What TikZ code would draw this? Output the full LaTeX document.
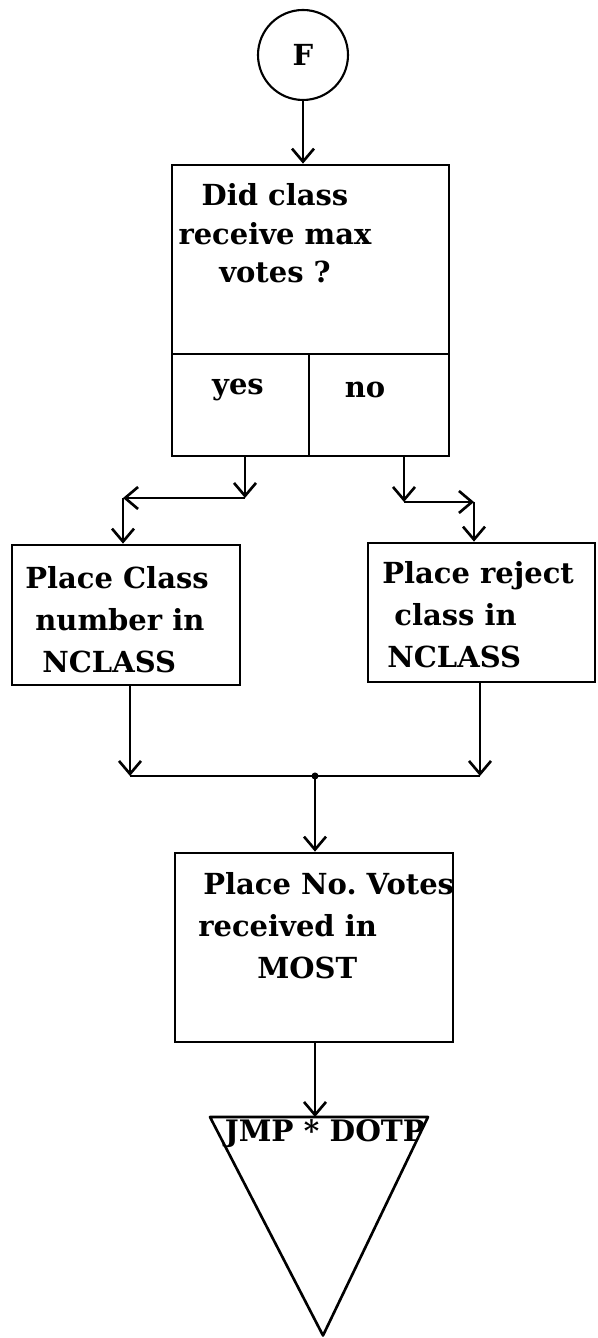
\documentclass[tikz,border=0pt]{standalone}
\usepackage{fontspec}
\setmainfont{DejaVu Serif}
\usetikzlibrary{arrows.meta, positioning}

\begin{document}
\begin{tikzpicture}[font=\bfseries\fontsize{16.5}{24}\selectfont,
  box/.style={draw, line width=1.5pt, inner sep=0pt},
  txt/.style={inner sep=0pt},
  arr/.style={-{Straight Barb[length=2.6mm,width=4.4mm]}, line width=1.5pt}]
  \useasboundingbox (0,0) rectangle (11.94,26.76);

  \node[box, circle, line width=1.2pt, minimum size=1.8cm] (fnode) at (6.06,25.66) {F};

  \node[box, minimum width=5.54cm, minimum height=3.78cm] (ask) at (6.21,21.57) {};
  \node[txt, align=center, font=\bfseries\fontsize{16.5}{22}\selectfont] (asktext) at (5.5,22.09) {Did class\\receive max\\votes ?};
  \node[box, minimum width=2.74cm, minimum height=2.04cm] (yes) at (4.81,18.66) {};
  \node[box, minimum width=2.80cm, minimum height=2.04cm] (no) at (7.58,18.66) {};
  \node[txt] (yestext) at (4.76,18.96) {yes};
  \node[txt] (notext) at (7.3,18.96) {no};

  \node[box, minimum width=4.56cm, minimum height=2.80cm] (place) at (2.52,14.46) {};
  \node[txt, align=left, anchor=west] (placetext) at (0.5,14.36) {Place Class\\\hspace*{0.2cm}number in\\\hspace*{0.34cm}NCLASS};

  \node[box, minimum width=4.54cm, minimum height=2.78cm] (reject) at (9.63,14.51) {};
  \node[txt, align=left, anchor=west] (rejecttext) at (7.64,14.46) {Place reject\\\hspace*{0.24cm}class in\\\hspace*{0.1cm}NCLASS};

  \node[box, minimum width=5.56cm, minimum height=3.78cm] (most) at (6.28,7.81) {};
  \node[txt, align=left, anchor=west] (mosttext) at (3.96,8.24) {\hspace*{0.1cm}Place No.\ Votes\\received in\\\hspace*{1.18cm}MOST};

  \coordinate (jmp) at (6.3,4.42);
  \draw[line width=1.5pt, line join=round] (4.2,4.42) -- (8.56,4.42) -- (6.46,0.05) -- cycle;
  \node[txt, font=\bfseries\fontsize{16.8}{24}\selectfont] (jmptext) at (6.5,4.08) {JMP * DOTP};

  \coordinate (yturn) at (4.9,16.8);
  \coordinate (yleft) at (2.46,16.8);
  \coordinate (nturn) at (8.08,16.72);
  \coordinate (nright) at (9.48,16.72);
  \coordinate (mleft) at (2.6,11.24);
  \coordinate (mright) at (9.6,11.24);
  \coordinate (mjoin) at (6.3,11.24);

  \draw[arr] (fnode.south) -- (fnode.south |- ask.north);
  \draw[arr] (yes.south -| yturn) -- (yturn);
  \draw[arr] (yturn) -- (yleft);
  \draw[arr] (yleft) -- (yleft |- place.north);
  \draw[arr] (no.south -| nturn) -- (nturn);
  \draw[arr] (nturn) -- (nright);
  \draw[arr] (nright) -- (nright |- reject.north);
  \draw[arr] (place.south -| mleft) -- (mleft);
  \draw[arr] (reject.south -| mright) -- (mright);
  \draw[line width=1.5pt] (mleft) -- (mright);
  \fill (mjoin) circle (2pt);
  \draw[arr] (mjoin) -- (mjoin |- most.north);
  \draw[arr] (most.south -| jmp) -- (jmp);
\end{tikzpicture}
\end{document}
